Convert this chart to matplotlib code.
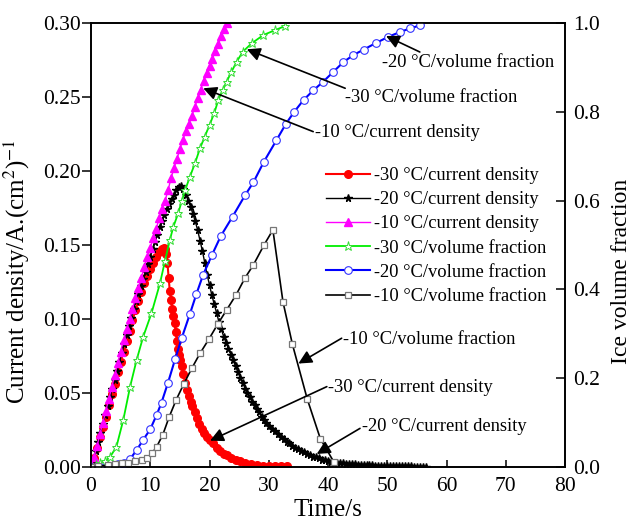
import matplotlib
matplotlib.use('Agg')
import matplotlib.pyplot as plt
from matplotlib.ticker import FormatStrFormatter

plt.rcParams['font.family'] = 'Liberation Serif'
plt.rcParams['mathtext.fontset'] = 'stix'

# ---- current density (left axis, A/cm2) ----
red_t = [0, 0.5, 1, 1.5, 2, 2.5, 3, 3.5, 4, 4.5, 5, 5.5, 6, 6.5, 7, 7.5, 8, 8.5, 9, 9.5,
         10, 10.5, 11, 11.5, 12, 12.3, 12.5, 12.7, 12.9, 13.1, 13.3, 13.5, 13.7, 13.9, 14.1,
         14.3, 14.5, 14.7, 14.9, 15.1, 15.3, 15.6, 15.9, 16.2, 16.5, 16.8, 17.1, 17.5, 17.9,
         18.3, 18.7, 19.1, 19.6, 20.1, 20.6, 21.2, 21.8, 22.4, 23.0, 23.7, 24.4, 25.1, 26,
         27, 28, 29, 30, 31, 32, 33]
red_cd = [0.000, 0.006, 0.013, 0.020, 0.027, 0.034, 0.042, 0.049, 0.056, 0.064, 0.071, 0.078,
          0.085, 0.092, 0.099, 0.106, 0.112, 0.118, 0.124, 0.129, 0.134, 0.138, 0.142, 0.145,
          0.147, 0.148, 0.147, 0.144, 0.138, 0.128, 0.119, 0.113, 0.107, 0.102, 0.097, 0.091,
          0.085, 0.080, 0.076, 0.072, 0.068, 0.063, 0.057, 0.052, 0.048, 0.044, 0.041, 0.037,
          0.033, 0.029, 0.026, 0.023, 0.020, 0.018, 0.016, 0.013, 0.011, 0.009, 0.008, 0.006,
          0.005, 0.004, 0.003, 0.002, 0.0015, 0.001, 0.0008, 0.0006, 0.0005, 0.0004]

star_t = [0.0, 0.4, 0.8, 1.2, 1.6, 2.0, 2.4, 2.8, 3.2, 3.6, 4.0, 4.4, 4.8, 5.2, 5.6, 6.0, 6.4,
          6.8, 7.2, 7.6, 8.0, 8.4, 8.8, 9.2, 9.6, 10.0, 10.4, 10.8, 11.2, 11.6, 12.0, 12.4,
          12.8, 13.2, 13.6, 14.0, 14.4, 14.8, 15.2,
          15.6, 16.0, 16.4, 16.8, 17.2, 17.6, 18.0, 18.4, 18.8, 19.2, 19.6, 20.0, 20.4, 20.8,
          21.2, 21.6, 22.0, 22.4, 22.8, 23.2, 23.6, 24.0, 24.4, 24.8, 25.2, 25.6, 26.0, 26.4,
          26.8, 27.2, 27.6, 28.0, 28.4, 28.8, 29.2, 29.6, 30.0,
          30.5, 31, 31.5, 32, 32.5, 33, 33.5, 34, 34.5, 35, 35.5, 36, 36.5, 37, 37.5, 38, 38.5,
          39, 39.5, 40, 40.5, 41,
          41.5, 42, 42.5, 43, 43.5, 44, 44.5, 45, 45.5, 46, 46.5, 47, 47.5, 48, 48.5, 49, 49.5,
          50, 50.5, 51, 51.5, 52, 52.5, 53, 53.5, 54, 54.5, 55, 55.5, 56, 56.5]
star_cd = [0.000, 0.005, 0.011, 0.017, 0.023, 0.029, 0.035, 0.041, 0.047, 0.053, 0.059, 0.065,
           0.071, 0.077, 0.083, 0.089, 0.095, 0.101, 0.107, 0.112, 0.117, 0.122, 0.127, 0.132,
           0.137, 0.142, 0.147, 0.152, 0.157, 0.162, 0.166, 0.170, 0.174, 0.178, 0.181, 0.184,
           0.187, 0.189, 0.190,
           0.188, 0.184, 0.180, 0.176, 0.171, 0.166, 0.160, 0.153, 0.146, 0.138, 0.130, 0.123,
           0.116, 0.110, 0.104, 0.098, 0.093, 0.088, 0.084, 0.080, 0.076, 0.072, 0.068, 0.064,
           0.060, 0.057, 0.053, 0.050, 0.047, 0.044, 0.042, 0.039, 0.037, 0.034, 0.032, 0.030,
           0.028,
           0.026, 0.024, 0.022, 0.020, 0.019, 0.017, 0.016, 0.014, 0.013, 0.012, 0.011, 0.010,
           0.009, 0.008, 0.007, 0.0065, 0.006, 0.005, 0.0045, 0.004, 0.0035, 0.003,
           0.0028, 0.0026, 0.0024, 0.0022, 0.002, 0.0019, 0.0018, 0.0016, 0.0015, 0.0014,
           0.0013, 0.0012, 0.0011, 0.001, 0.0009, 0.0009, 0.0008, 0.0007, 0.0007, 0.0006,
           0.0006, 0.0005, 0.0005, 0.0004, 0.0004, 0.0004, 0.0003, 0.0003, 0.0003, 0.0002, 0.0002]

mag_t = [0.0, 0.5, 1.0, 1.5, 2.0, 2.5, 3.0, 3.5, 4.0, 4.5, 5.0, 5.5, 6.0, 6.5, 7.0, 7.5, 8.0,
         8.5, 9.0, 9.5, 10.0, 10.5, 11.0, 11.5, 12.0, 12.5, 13.0, 13.5, 14.0, 14.5, 15.0, 15.5,
         16.0, 16.5, 17.0, 17.5, 18.0, 18.5, 19.0, 19.5, 20.0, 20.5, 21.0, 21.5, 22.0, 22.5, 23.0]
mag_cd = [0.000, 0.007, 0.014, 0.022, 0.030, 0.038, 0.046, 0.054, 0.062, 0.070, 0.078, 0.086,
          0.093, 0.100, 0.107, 0.114, 0.121, 0.128, 0.135, 0.142, 0.148, 0.155, 0.161, 0.168,
          0.174, 0.180, 0.187, 0.195, 0.202, 0.208, 0.215, 0.221, 0.227, 0.232, 0.237, 0.243,
          0.249, 0.255, 0.261, 0.266, 0.271, 0.276, 0.281, 0.286, 0.291, 0.296, 0.300]

# ---- ice volume fraction (right axis) ----
green_t = [0, 0.8, 1.5, 2.3, 3.2, 4.3, 5.45, 6.6, 7.7, 8.8, 10.2, 11.65, 12.5, 13.3, 13.9, 14.7,
           15.3, 15.9, 16.7, 17.55, 18.4, 19.2, 20.0, 20.8, 21.5, 22.2, 22.9, 23.7, 24.6, 25.6,
           27.1, 29.1, 31.1, 32.7]
green_vf = [0, 0.004, 0.008, 0.013, 0.022, 0.046, 0.106, 0.181, 0.241, 0.293, 0.346, 0.414,
            0.465, 0.511, 0.541, 0.571, 0.598, 0.624, 0.654, 0.684, 0.718, 0.744, 0.770, 0.797,
            0.827, 0.848, 0.868, 0.890, 0.913, 0.935, 0.954, 0.973, 0.984, 0.993]

blue_t = [0, 1.5, 3.0, 4.5, 5.6, 6.6, 7.7, 8.8, 10.0, 11.1, 11.9, 13.0, 14.2, 15.3, 16.7, 17.8,
          18.9, 20.4, 21.9, 23.9, 26.0, 27.4, 29.2, 31.3, 32.9, 34.3, 35.9, 37.5, 39.2, 40.9,
          42.6, 44.3, 46.0, 48.1, 50.2, 52.2, 53.9, 55.6]
blue_vf = [0, 0.001, 0.003, 0.006, 0.010, 0.018, 0.038, 0.061, 0.085, 0.118, 0.145, 0.190,
           0.243, 0.290, 0.345, 0.390, 0.432, 0.477, 0.520, 0.564, 0.612, 0.641, 0.688, 0.736,
           0.773, 0.800, 0.827, 0.848, 0.868, 0.890, 0.912, 0.928, 0.940, 0.955, 0.969, 0.980,
           0.988, 0.995]

sq_t = [0, 1.2, 2.9, 4.0, 5.2, 6.3, 7.4, 8.6, 9.5, 10.3, 11.1, 12.1, 13.2, 14.4, 15.7, 17.0,
        18.4, 19.9, 21.4, 22.9, 24.5, 26.0, 27.4, 29.2, 30.7, 32.4, 34.0, 36.5, 38.7, 41.0]
sq_vf = [0, 0.002, 0.004, 0.006, 0.008, 0.010, 0.013, 0.016, 0.021, 0.031, 0.046, 0.072, 0.113,
         0.152, 0.188, 0.222, 0.256, 0.288, 0.322, 0.354, 0.388, 0.426, 0.455, 0.500, 0.534,
         0.372, 0.276, 0.153, 0.064, 0.011]

labels = ['-30 °C/current density', '-20 °C/current density', '-10 °C/current density',
          '-30 °C/volume fraction', '-20 °C/volume fraction', '-10 °C/volume fraction']

# annotation: text, arrow head (t, left-axis value), arrow tail, text anchor
notes = [
    ('-20 °C/volume fraction', (49.8, 0.2912), (55.5, 0.2804), (49.1, 0.2736)),
    ('-30 °C/volume fraction', (26.3, 0.2822), (42.9, 0.2559), (42.9, 0.2500)),
    ('-10 °C/current density', (18.95, 0.2559), (37.5, 0.2266), (37.8, 0.2257)),
    ('-10 °C/volume fraction', (35.0, 0.0699), (42.3, 0.0870), (42.6, 0.0863)),
    ('-30 °C/current density', (20.1, 0.0178), (39.8, 0.0543), (40.05, 0.0539)),
    ('-20 °C/current density', (38.1, 0.0088), (45.4, 0.0261), (45.7, 0.0272)),
]

fig = plt.figure(figsize=(6.33, 5.24), dpi=100)
ax = fig.add_axes([91 / 633, 57 / 524, 474 / 633, 444 / 524])
ax2 = ax.twinx()

l1, = ax.plot(red_t, red_cd, '-o', color='red', lw=1.5, ms=5.5, mec='red', mfc='red')
l2, = ax.plot(star_t, star_cd, '-*', color='black', lw=1, ms=5.5)
l3, = ax.plot(mag_t, mag_cd, '-^', color='#ff00ff', lw=1, ms=6, mec='#ff00ff')
l4, = ax2.plot(green_t, green_vf, '-*', color='#00ee00', lw=1.3, ms=6.5, mfc='white',
               mec='#33dd33', mew=0.7)
l5, = ax2.plot(blue_t, blue_vf, '-o', color='#0000ff', lw=1.5, ms=5.5, mfc='white',
               mec='#3333ff', mew=0.8)
l6, = ax2.plot(sq_t, sq_vf, '-s', color='black', lw=1.2, ms=5, mfc='white',
               mec='#777777', mew=0.9)

ax.set_xlim(0, 80)
ax.set_ylim(0, 0.30)
ax2.set_ylim(0, 1.0)
ax.set_xticks(range(0, 81, 10))
ax.set_yticks([0, 0.05, 0.10, 0.15, 0.20, 0.25, 0.30])
ax2.set_yticks([0, 0.2, 0.4, 0.6, 0.8, 1.0])
ax.yaxis.set_major_formatter(FormatStrFormatter('%.2f'))
ax2.yaxis.set_major_formatter(FormatStrFormatter('%.1f'))

ax.tick_params(axis='x', direction='in', length=5, width=1.1, labelsize=15.5, pad=7)
ax.tick_params(axis='y', direction='out', length=6.5, width=1.1, labelsize=15.5, pad=1)
ax2.tick_params(axis='y', direction='in', length=6.5, width=1.1, labelsize=15.5, pad=6)
for a in (ax, ax2):
    for s in a.spines.values():
        s.set_linewidth(1.2)

ax.set_xlabel('Time/s', fontsize=18, labelpad=2)
ax.set_ylabel('Current density/A.(cm$^{2}$)$^{-1}$', fontsize=18)
ax.yaxis.set_label_coords(-0.125, 0.44)
ax2.set_ylabel('Ice volume fraction', fontsize=17)
ax2.yaxis.set_label_coords(1.097, 0.44)

for text, head, tail, pos in notes:
    ax2.annotate('', xy=head, xycoords=ax.transData, xytext=tail, textcoords=ax.transData,
                 arrowprops=dict(arrowstyle='-|>', color='black', lw=1.2, mutation_scale=20,
                                 shrinkA=0, shrinkB=0))
    ax2.text(pos[0], pos[1], text, transform=ax.transData, fontsize=13.3,
             ha='left', va='center')

ax2.legend([l1, l2, l3, l4, l5, l6], labels, loc='upper left',
           bbox_to_anchor=(326 / 633, 1 - 167 / 524), bbox_transform=fig.transFigure,
           frameon=False, fontsize=13.3, handlelength=2.4, handletextpad=0.2,
           labelspacing=0.39, borderpad=0, borderaxespad=0, numpoints=1)

fig.savefig('out.png', dpi=100)
